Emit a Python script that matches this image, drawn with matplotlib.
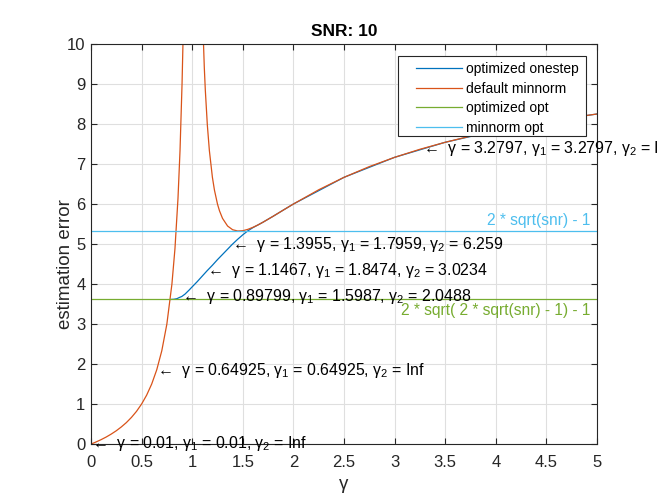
"""SNR 10 estimation error vs gamma (MATLAB-style figure)"""
import matplotlib
matplotlib.use("Agg")
import matplotlib.pyplot as plt
from matplotlib.patches import Rectangle

plt.rcParams["font.family"] = ["Liberation Sans", "DejaVu Sans"]
plt.rcParams["mathtext.fontset"] = "custom"
plt.rcParams["mathtext.rm"] = "Liberation Sans"
plt.rcParams["mathtext.it"] = "Liberation Sans"
plt.rcParams["mathtext.bf"] = "Liberation Sans:bold"

# default minnorm (two branches either side of the pole)
minnorm_g = [0.0, 0.05, 0.1, 0.15, 0.2, 0.25, 0.3, 0.35, 0.4, 0.45, 0.5, 0.55, 0.6,
             0.65, 0.7, 0.75, 0.8, 0.83, 0.86, 0.88, 0.9, 0.91, 0.92,
             1.1, 1.12, 1.13, 1.15, 1.17, 1.2, 1.22, 1.25, 1.27, 1.3, 1.35, 1.4, 1.45,
             1.5, 1.55, 1.6, 1.65, 1.7, 1.8, 1.9, 2.0, 2.25, 2.5, 2.75, 3.0, 3.25, 3.5,
             3.75, 4.0, 4.25, 4.5, 4.75, 5.0]
minnorm_e = [0.0, 0.053, 0.111, 0.176, 0.25, 0.333, 0.429, 0.538, 0.667, 0.818, 1.0, 1.222, 1.5,
             1.857, 2.333, 3.0, 4.0, 4.882, 6.143, 7.333, 9.0, 10.11, 11.5,
             10.91, 9.405, 8.843, 7.971, 7.335, 6.667, 6.349, 6.0, 5.830, 5.641, 5.450, 5.357, 5.326,
             5.333, 5.367, 5.417, 5.477, 5.546, 5.694, 5.848, 6.0, 6.356, 6.667, 6.935, 7.167, 7.368, 7.543,
             7.697, 7.833, 7.955, 8.063, 8.161, 8.25]

# optimized onestep
onestep_g = [0.787, 0.82, 0.85, 0.87, 0.898, 0.93, 0.97, 1.0, 1.05, 1.1, 1.1467, 1.2, 1.25,
             1.3, 1.3955, 1.45, 1.5, 1.55, 1.6, 1.65, 1.7, 1.8, 1.9, 2.0, 2.5, 3.0, 3.5, 4.0, 4.5, 5.0]
onestep_e = [3.615, 3.62, 3.635, 3.66, 3.69, 3.75, 3.85, 3.93, 4.06, 4.2, 4.33, 4.47, 4.61,
             4.74, 4.99, 5.12, 5.23, 5.33, 5.41, 5.477, 5.546, 5.694, 5.848, 6.0, 6.667, 7.167, 7.543,
             7.833, 8.063, 8.25]

optimized_opt = 3.615
minnorm_opt = 5.325

ann_g = [0.01, 0.64925, 0.89799, 1.1467, 1.3955, 3.2797]
ann_e = [0.01, 1.85, 3.68, 4.35, 5.0, 7.39]
ann_g1 = ["0.01", "0.64925", "1.5987", "1.8474", "1.7959", "3.2797"]
ann_g2 = ["Inf", "Inf", "2.0488", "3.0234", "6.259", "Inf"]

C_BLUE, C_ORANGE, C_GREEN, C_LBLUE = "#0072BD", "#D95319", "#77AC30", "#4DBEEE"
DARK = "#262626"

fig = plt.figure(figsize=(6.59, 4.94), dpi=100, facecolor="white")
ax = fig.add_axes([0.138, 0.101, 0.768, 0.81])

ax.plot(onestep_g, onestep_e, color=C_BLUE, lw=0.9, label="optimized onestep")
ax.plot(minnorm_g, minnorm_e, color=C_ORANGE, lw=0.9, label="default minnorm")
ax.axhline(optimized_opt, color=C_GREEN, lw=0.9, label="optimized opt")
ax.axhline(minnorm_opt, color=C_LBLUE, lw=0.9, label="minnorm opt")

ax.text(4.93, minnorm_opt + 0.08, "2 * sqrt(snr) - 1", color=C_LBLUE, fontsize=11.2,
        ha="right", va="bottom")
ax.text(4.93, optimized_opt - 0.08, "2 * sqrt( 2 * sqrt(snr) - 1) - 1", color=C_GREEN,
        fontsize=11.2, ha="right", va="top")

for g, e, g1, g2 in zip(ann_g, ann_e, ann_g1, ann_g2):
    s = "\u2190  \u03b3 = %s, $\\gamma_1$ = %s, $\\gamma_2$ = %s" % (("%g" % g), g1, g2)
    ax.text(g, e, s, fontsize=11.4, color="black", ha="left", va="center")

ax.set_xlim(0, 5)
ax.set_ylim(0, 10)
ax.set_xticks([0, 0.5, 1, 1.5, 2, 2.5, 3, 3.5, 4, 4.5, 5])
ax.set_xticklabels(["0", "0.5", "1", "1.5", "2", "2.5", "3", "3.5", "4", "4.5", "5"])
ax.set_yticks(range(0, 11))
ax.grid(color="#dfdfdf", lw=0.8)
ax.set_axisbelow(True)
ax.tick_params(direction="in", length=4, width=0.8, colors=DARK, labelsize=12,
               top=True, right=True)
ax.tick_params(axis="x", pad=7.5)
ax.tick_params(axis="y", pad=4)
for sp in ax.spines.values():
    sp.set_edgecolor(DARK)
    sp.set_linewidth(0.8)

ax.set_title("SNR: 10", fontsize=12.5, fontweight="bold", color="black", pad=6)
ax.set_xlabel("\u03b3", fontsize=13.5, color=DARK, labelpad=5)
ax.set_ylabel("estimation error", fontsize=13.5, color=DARK)
ax.yaxis.set_label_coords(-0.034, 0.45)

# legend: box drawn separately so its padding matches the original
ax.add_patch(Rectangle((0.607, 0.77), 0.371, 0.20, transform=ax.transAxes,
                       facecolor="white", edgecolor=DARK, lw=0.8, zorder=4.9))
leg = ax.legend(loc="upper left", bbox_to_anchor=(0.642, 0.955), borderaxespad=0,
                fontsize=10, frameon=False, borderpad=0,
                handlelength=3.3, handletextpad=0.3, labelspacing=0.4)
leg.set_zorder(5)

fig.savefig("out.png", dpi=100)
